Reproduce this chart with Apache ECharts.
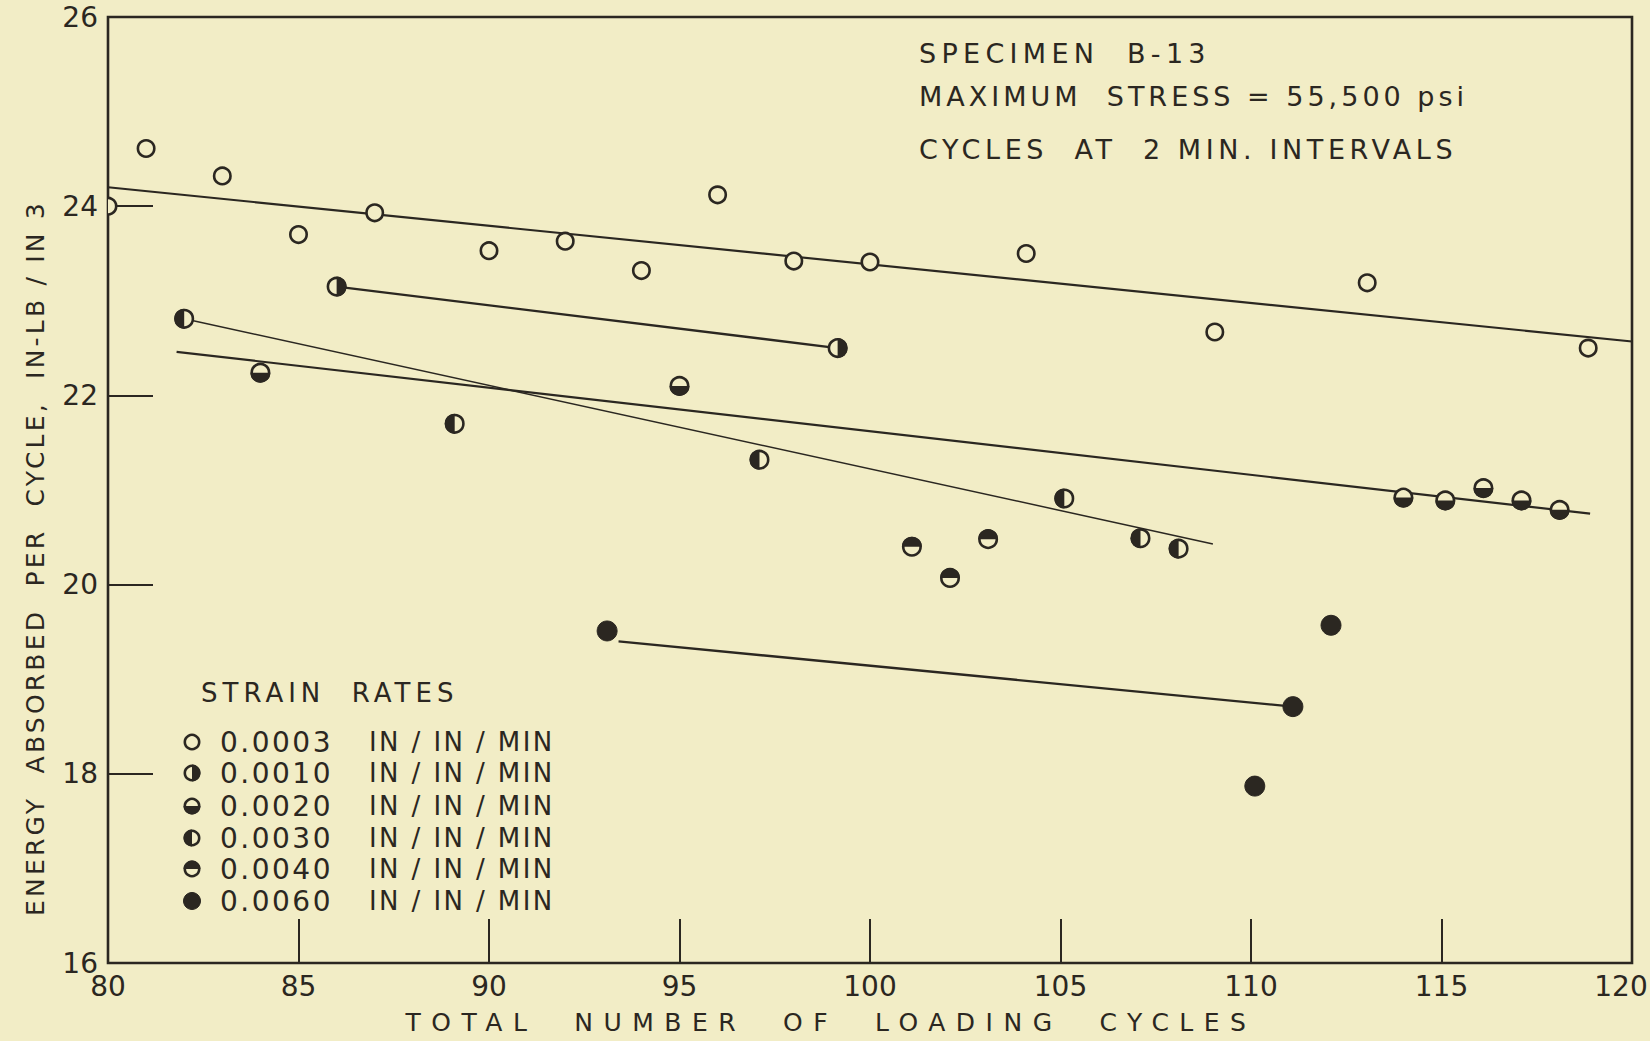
<!DOCTYPE html>
<html>
<head>
<meta charset="utf-8">
<script src="https://cdn.jsdelivr.net/npm/echarts@6/dist/echarts.min.js"></script>
<style>
  html, body { margin: 0; padding: 0; background: #F2EDC6; overflow: hidden; }
  #chart { width: 1650px; height: 1041px; }
</style>
</head>
<body>
<div id="chart"></div>
<script>
// ---------------- DATA ----------------
const xTicks = [80, 85, 90, 95, 100, 105, 110, 115, 120];
const yTicks = [16, 18, 20, 22, 24, 26];

// strain rate 0.0003 IN/IN/MIN (open circles)
const rate0003 = [[80, 24.0], [81, 24.61], [83, 24.32], [85, 23.70], [87, 23.93], [90, 23.53], [92, 23.63], [94, 23.32],
                  [96, 24.12], [98, 23.42], [100, 23.41], [104.1, 23.50], [109.05, 22.67], [113.05, 23.19], [118.85, 22.50]];
// strain rate 0.0010 (right half filled)
const rate0010 = [[86, 23.15], [99.15, 22.50]];
// strain rate 0.0020 (bottom half filled)
const rate0020 = [[84, 22.24], [95, 22.10], [114, 20.92], [115.1, 20.89], [116.1, 21.02], [117.1, 20.89], [118.1, 20.79]];
// strain rate 0.0030 (left half filled)
const rate0030 = [[82, 22.81], [89.1, 21.70], [97.1, 21.32], [105.1, 20.91], [107.1, 20.49], [108.1, 20.38]];
// strain rate 0.0040 (top half filled)
const rate0040 = [[101.1, 20.40], [102.1, 20.07], [103.1, 20.48]];
// strain rate 0.0060 (filled)
const rate0060 = [[93.1, 19.51], [110.1, 17.87], [111.1, 18.71], [112.1, 19.57]];

// hand-drawn trend lines (end points)
const line0003 = [[80, 24.20], [120, 22.57]];
const line0010 = [[86, 23.15], [99.15, 22.50]];
const line0020 = [[81.8, 22.46], [118.9, 20.75]];
const line0030 = [[82, 22.81], [109.0, 20.43]];
const line0060 = [[93.4, 19.40], [111.1, 18.71]];

const legendRates = ['0.0003', '0.0010', '0.0020', '0.0030', '0.0040', '0.0060'];
const legendKinds = ['open', 'right', 'bottom', 'left', 'top', 'full'];

// ---------------- STYLE ----------------
const INK = '#2B2721';
const PAPER = '#F2EDC6';
const FONT = 'DejaVu Sans';
const PI = Math.PI;
const halfAngles = {
  right: [-PI / 2, PI / 2],
  left: [PI / 2, 3 * PI / 2],
  top: [PI, 2 * PI],
  bottom: [0, PI]
};

function markerShapes(kind, cx, cy, r) {
  if (kind === 'full') {
    return [{ type: 'circle', shape: { cx: cx, cy: cy, r: r }, style: { fill: INK, stroke: INK, lineWidth: 1 } }];
  }
  const out = [{ type: 'circle', shape: { cx: cx, cy: cy, r: r - 1.3 }, style: { fill: PAPER, stroke: INK, lineWidth: 2.6 } }];
  if (halfAngles[kind]) {
    const a = halfAngles[kind];
    out.push({ type: 'sector', shape: { cx: cx, cy: cy, r0: 0, r: r, startAngle: a[0], endAngle: a[1], clockwise: true },
               style: { fill: INK } });
  }
  return out;
}

function markerSeries(name, data, kind, r) {
  return {
    name: name,
    type: 'custom',
    data: data,
    clip: true,
    z: 5,
    renderItem: function (params, api) {
      const p = api.coord([api.value(0), api.value(1)]);
      return { type: 'group', children: markerShapes(kind, p[0], p[1], r) };
    }
  };
}

function lineSeries(data, w) {
  return {
    type: 'line',
    data: data,
    showSymbol: false,
    symbol: 'none',
    z: 3,
    lineStyle: { color: INK, width: w },
    silent: true
  };
}

// legend graphics
const legendGraphics = [];
legendGraphics.push({ type: 'text', x: 201, y: 693, style: { text: 'STRAIN  RATES', fill: INK, font: '26px "' + FONT + '"', verticalAlign: 'middle' } });
const legendRowsY = [742, 773, 806, 838, 869, 901];
legendRates.forEach(function (rt, i) {
  const y = legendRowsY[i];
  legendGraphics.push({ type: 'group', children: markerShapes(legendKinds[i], 192, y, 8.5) });
  legendGraphics.push({ type: 'text', x: 220, y: y, style: { text: rt, fill: INK, font: '28px "' + FONT + '"', verticalAlign: 'middle' } });
  legendGraphics.push({ type: 'text', x: 369, y: y, style: { text: 'IN / IN / MIN', fill: INK, font: '26px "' + FONT + '"', verticalAlign: 'middle' } });
});

const noteGraphics = [
  { type: 'text', x: 919, y: 53, style: { text: 'SPECIMEN  B-13', fill: INK, font: '27px "' + FONT + '"', verticalAlign: 'middle' } },
  { type: 'text', x: 919, y: 96, style: { text: 'MAXIMUM  STRESS = 55,500 psi', fill: INK, font: '27px "' + FONT + '"', verticalAlign: 'middle' } },
  { type: 'text', x: 919, y: 149, style: { text: 'CYCLES  AT  2 MIN. INTERVALS', fill: INK, font: '27px "' + FONT + '"', verticalAlign: 'middle' } }
];

const chart = echarts.init(document.getElementById('chart'), null, { renderer: 'svg' });
const option = {
  backgroundColor: PAPER,
  animation: false,
  grid: {
    left: 108, top: 17, width: 1524, height: 946,
    outerBoundsMode: 'none',
    containLabel: false,
    show: true, borderColor: INK, borderWidth: 2.6, backgroundColor: 'transparent'
  },
  xAxis: {
    type: 'value',
    min: xTicks[0], max: xTicks[xTicks.length - 1], interval: xTicks[1] - xTicks[0],
    splitLine: { show: false },
    axisLine: { show: false },
    axisTick: { show: true, inside: true, length: 44, lineStyle: { color: INK, width: 2 } },
    axisLabel: {
      color: INK, fontFamily: FONT, fontSize: 28, margin: 9,
      formatter: function (v) { return v === xTicks[xTicks.length - 1] ? '{last|' + v + '}' : String(v); },
      rich: { last: { color: INK, fontFamily: FONT, fontSize: 28, padding: [0, 22, 0, 0] } }
    },
    name: 'TOTAL  NUMBER  OF  LOADING  CYCLES',
    nameLocation: 'middle',
    nameGap: 47,
    nameTextStyle: { color: INK, fontFamily: FONT, fontSize: 25, padding: [0, 78, 0, 0] }
  },
  yAxis: {
    type: 'value',
    min: yTicks[0], max: yTicks[yTicks.length - 1], interval: yTicks[1] - yTicks[0],
    splitLine: { show: false },
    axisLine: { show: false },
    axisTick: { show: true, inside: true, length: 45, lineStyle: { color: INK, width: 2 } },
    axisLabel: { color: INK, fontFamily: FONT, fontSize: 28, margin: 10 },
    name: 'ENERGY  ABSORBED  PER  CYCLE,  IN-LB / IN 3',
    nameLocation: 'middle',
    nameGap: 60,
    nameTextStyle: { color: INK, fontFamily: FONT, fontSize: 25, padding: [0, 136, 0, 0] }
  },
  graphic: legendGraphics.concat(noteGraphics),
  series: [
    lineSeries(line0003, 2.2),
    lineSeries(line0010, 2.4),
    lineSeries(line0020, 2.2),
    lineSeries(line0030, 1.5),
    lineSeries(line0060, 2.4),
    markerSeries('0.0003', rate0003, 'open', 9.5),
    markerSeries('0.0010', rate0010, 'right', 10),
    markerSeries('0.0020', rate0020, 'bottom', 10),
    markerSeries('0.0030', rate0030, 'left', 10),
    markerSeries('0.0040', rate0040, 'top', 10),
    markerSeries('0.0060', rate0060, 'full', 10)
  ]
};
chart.setOption(option);

// widen the lettering like the original stencil lettering
const spacing = {
  'TOTAL  NUMBER  OF  LOADING  CYCLES': '10.5px',
  'ENERGY  ABSORBED  PER  CYCLE,  IN-LB / IN 3': '3.2px',
  'SPECIMEN  B-13': '5.3px',
  'MAXIMUM  STRESS = 55,500 psi': '4px',
  'CYCLES  AT  2 MIN. INTERVALS': '4.6px',
  'STRAIN  RATES': '5px',
  'IN / IN / MIN': '2.4px',
  '0.0003': '2.5px', '0.0010': '2.5px', '0.0020': '2.5px', '0.0030': '2.5px', '0.0040': '2.5px', '0.0060': '2.5px'
};
function applySpacing() {
  document.querySelectorAll('#chart text').forEach(function (t) {
    const s = spacing[t.textContent];
    if (s) t.style.letterSpacing = s;
  });
}
applySpacing();
chart.on('finished', applySpacing);
</script>
</body>
</html>
